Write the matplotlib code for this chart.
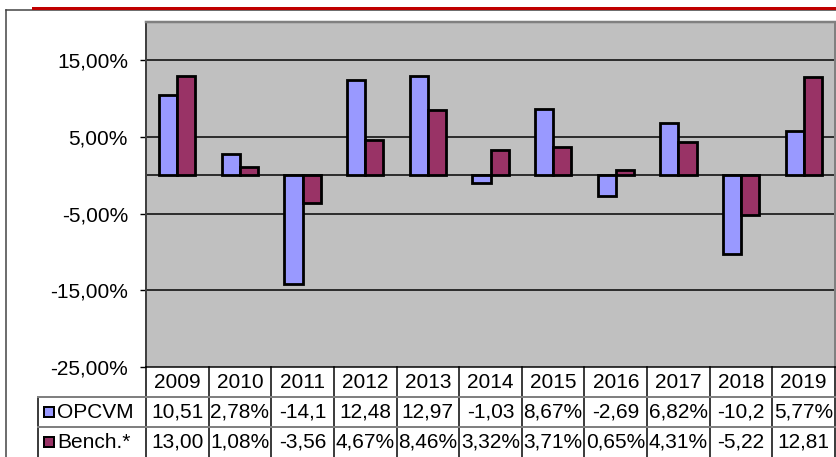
import numpy as np
import matplotlib.pyplot as plt
from matplotlib.patches import Rectangle
from matplotlib.lines import Line2D

plt.rcParams['font.family'] = ['Liberation Sans', 'DejaVu Sans']

years = ["2009", "2010", "2011", "2012", "2013", "2014", "2015", "2016", "2017", "2018", "2019"]
opcvm = [10.51, 2.78, -14.12, 12.48, 12.97, -1.03, 8.67, -2.69, 6.82, -10.21, 5.77]
bench = [13.00, 1.08, -3.56, 4.67, 8.46, 3.32, 3.71, 0.65, 4.31, -5.22, 12.81]
# cell texts as shown (Excel truncates them in narrow cells)
opcvm_txt = ["10,51", "2,78%", "-14,1", "12,48", "12,97", "-1,03", "8,67%", "-2,69", "6,82%", "-10,2", "5,77%"]
bench_txt = ["13,00", "1,08%", "-3,56", "4,67%", "8,46%", "3,32%", "3,71%", "0,65%", "4,31%", "-5,22", "12,81"]
yticks = [-25, -15, -5, 5, 15]
ytick_labels = ["-25,00%", "-15,00%", "-5,00%", "5,00%", "15,00%"]
series = ["OPCVM", "Bench.*"]
colors = ["#9999FF", "#993366"]

W, H = 836, 457
fig = plt.figure(figsize=(W / 100, H / 100), dpi=100)
fs = 15
px = 72 / 100  # one pixel in points

# plot area
ax = fig.add_axes([146 / W, 1 - 367 / H, (835 - 146) / W, (367 - 22) / H])
ax.set_facecolor("#C0C0C0")
n = len(years)
x = np.arange(n)
bw = 0.29
ax.bar(x - bw / 2, opcvm, bw, color=colors[0], edgecolor="black", linewidth=2.8 * px, zorder=3)
ax.bar(x + bw / 2, bench, bw, color=colors[1], edgecolor="black", linewidth=2.8 * px, zorder=3)
ax.set_xlim(-0.5, n - 0.5)
ax.set_ylim(-25, 20)
ax.set_yticks(yticks)
ax.set_yticklabels(ytick_labels, fontsize=fs)
ax.tick_params(axis="y", direction="out", length=6 * px, width=1, pad=12 * px, colors="black")
ax.set_xticks([])
for v in [15, 5, -5, -15]:
    ax.axhline(v, color="black", linewidth=1.5 * px, zorder=1)
ax.axhline(0, color="black", linewidth=1.5 * px, zorder=2)
ax.spines["left"].set_color("#404040")
ax.spines["left"].set_linewidth(2 * px)
ax.spines["top"].set_color("#808080")
ax.spines["top"].set_linewidth(2.5 * px)
ax.spines["right"].set_color("#808080")
ax.spines["right"].set_linewidth(2 * px)
ax.spines["bottom"].set_color("black")
ax.spines["bottom"].set_linewidth(1.5 * px)

# data table under the plot
unit = (835 - 146) / n
left_units = (146 - 38) / unit
tax = fig.add_axes([38 / W, 0, (835 - 38) / W, 90 / H])
tax.set_xlim(-0.5 - left_units, n - 0.5)
tax.set_ylim(3, 0)
tax.axis("off")
for i in range(n + 1):
    tax.plot([i - 0.5, i - 0.5], [0, 3], color="black", linewidth=1.5 * px, clip_on=False)
tax.plot([-0.5 - left_units] * 2, [1, 3], color="black", linewidth=1.5 * px, clip_on=False)
for r in [1, 2]:
    tax.plot([-0.5 - left_units, n - 0.5], [r, r], color="#808080", linewidth=2 * px, clip_on=False)
for i, yr in enumerate(years):
    tax.text(i, 0.5, yr, ha="center", va="center", fontsize=fs)
    tax.text(i, 1.5, opcvm_txt[i], ha="center", va="center", fontsize=fs)
    tax.text(i, 2.5, bench_txt[i], ha="center", va="center", fontsize=fs)

# legend keys in the table
for r, (name, c) in enumerate(zip(series, colors)):
    x0 = -0.5 - left_units + 6 / unit
    tax.add_patch(Rectangle((x0, r + 1.5 - 0.16), 10 / unit, 0.32, facecolor=c,
                            edgecolor="black", linewidth=2 * px, clip_on=False))
    tax.text(x0 + 13 / unit, r + 1.5, name, ha="left", va="center", fontsize=fs)

# outer frame and red rule
fig.add_artist(Line2D([6 / W, 6 / W], [0, 1 - 10 / H], color="#404040", linewidth=1.5 * px))
fig.add_artist(Line2D([6 / W, 1], [1 - 10 / H, 1 - 10 / H], color="#404040", linewidth=1.5 * px))
fig.add_artist(Line2D([33 / W, 1], [1 - 8 / H, 1 - 8 / H], color="#C00000", linewidth=3 * px))

fig.savefig("out.png", dpi=100)
